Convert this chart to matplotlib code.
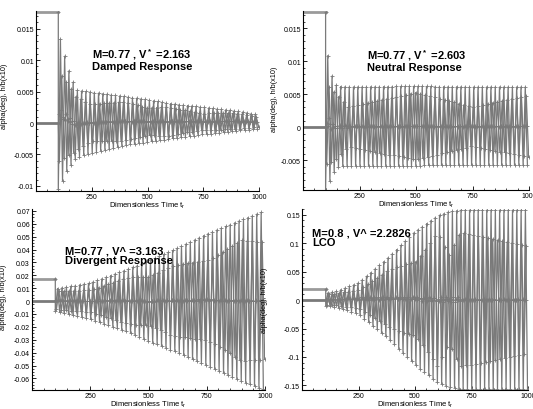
import numpy as np
import matplotlib.pyplot as plt
from matplotlib.ticker import MultipleLocator, FuncFormatter

plt.rcParams['font.family'] = ['Liberation Sans', 'DejaVu Sans']

GRIS = '#7a7a7a'
GRIS_CLAIR = '#9a9a9a'

# enveloppes (temps, crete haute, crete basse)
T_AMORTI = [100, 115, 140, 180, 250, 400, 500, 600, 750, 900, 1000]
HAUT_AMORTI = [0.0147, 0.0125, 0.009, 0.0052, 0.0049, 0.0042, 0.0037, 0.0031, 0.0025, 0.0019, 0.0013]
BAS_AMORTI = [-0.0105, -0.0095, -0.0075, -0.0055, -0.0047, -0.0035, -0.003, -0.0025, -0.0018, -0.0012, -0.0009]
# rapport d'amplitude de la seconde courbe (h/b) aux memes instants
RAPPORT_AMORTI = [0.6, 0.6, 0.7, 0.8, 0.6, 0.8, 0.65, 0.8, 0.6, 0.8, 0.7]

T_NEUTRE = [100, 110, 125, 150, 200, 500, 750, 1000]
HAUT_NEUTRE = [0.0174, 0.0105, 0.008, 0.0062, 0.0061, 0.0062, 0.0061, 0.0061]
BAS_NEUTRE = [-0.0095, -0.0092, -0.0075, -0.006, -0.0058, -0.0058, -0.0057, -0.0057]
RAPPORT_NEUTRE = [0.6, 0.6, 0.7, 0.8, 0.5, 0.85, 0.5, 0.8]

T_DIVERGENT = [100, 150, 250, 400, 500, 600, 750, 900, 1000]
HAUT_DIVERGENT = [0.0095, 0.011, 0.014, 0.024, 0.031, 0.039, 0.052, 0.063, 0.070]
BAS_DIVERGENT = [-0.008, -0.010, -0.014, -0.023, -0.031, -0.038, -0.050, -0.062, -0.069]
RAPPORT_DIVERGENT = [0.8, 0.7, 0.6, 0.75, 0.6, 0.7, 0.6, 0.75, 0.65]

T_LCO = [105, 150, 250, 375, 500, 600, 650, 700, 1000]
HAUT_LCO = [0.012, 0.015, 0.03, 0.072, 0.12, 0.148, 0.155, 0.158, 0.158]
BAS_LCO = [-0.010, -0.012, -0.024, -0.065, -0.113, -0.145, -0.152, -0.156, -0.156]
RAPPORT_LCO = [0.8, 0.7, 0.6, 0.7, 0.55, 0.8, 0.5, 0.75, 0.6]

# niveau initial (h/b) avant le lacher
NIVEAUX_INITIAUX = [0.0176, 0.0174, 0.0175, 0.019]
T_LACHER = [100, 100, 100, 105]

TITRES = [
    "M=0.77 , V$\\mathregular{^*}$ =2.163\nDamped Response",
    "M=0.77 , V$\\mathregular{^*}$ =2.603\nNeutral Response",
    "M=0.77 , V^ =3.163\nDivergent Response",
    "M=0.8 , V^ =2.2826\nLCO",
]

PERIODE = 19.0


def zigzag(t0, demi, t_env, haut, bas, rapport=None):
    t = np.arange(t0, 1000 + 1e-9, demi)
    h = np.interp(t, t_env, haut)
    b = np.interp(t, t_env, bas)
    if rapport is not None:
        r = np.interp(t, t_env, rapport)
        h = h * r
        b = b * r
    k = np.arange(len(t))
    y = np.where(k % 2 == 0, b, h)
    # points intermediaires pour les marqueurs
    tt = np.empty(2 * len(t) - 1)
    yy = np.empty(2 * len(t) - 1)
    tt[0::2] = t
    yy[0::2] = y
    tt[1::2] = (t[:-1] + t[1:]) / 2
    yy[1::2] = (y[:-1] + y[1:]) / 2
    return tt, yy


def tracer(ax, t_env, haut, bas, rapport, niveau, t_lacher):
    ax.plot([0, t_lacher], [niveau, niveau], color=GRIS_CLAIR, lw=2)
    ax.plot([0, t_lacher], [0, 0], color=GRIS, lw=2)
    t1, y1 = zigzag(t_lacher, PERIODE / 2, t_env, haut, bas)
    t1 = np.concatenate([[t_lacher], t1])
    y1 = np.concatenate([[niveau], y1])
    ax.plot(t1, y1, color=GRIS, lw=0.9, marker='+', ms=2.2, mew=0.6)
    t2, y2 = zigzag(t_lacher + PERIODE / 4, PERIODE * 1.12 / 2, t_env, haut, bas, rapport)
    t2 = np.concatenate([[t_lacher], t2])
    y2 = np.concatenate([[0], y2])
    ax.plot(t2, y2, color=GRIS, lw=0.9, marker='+', ms=2.2, mew=0.6)


def format_y(v, pos):
    v = round(v, 4)
    if v == 0:
        return "0"
    return f"{v:g}"


W, H = 533, 410
fig = plt.figure(figsize=(W / 100, H / 100), dpi=100)

# cadres en pixels: gauche, bas, largeur, hauteur
cadres = [(36, 192, 223, 180), (303, 191, 226, 179), (32, 391, 233, 181), (302, 391, 226, 181)]
limites_y = [(-0.0108, 0.0178), (-0.0095, 0.0176), (-0.069, 0.0715), (-0.158, 0.16)]
pas_majeur = [0.005, 0.005, 0.01, 0.05]
pas_mineur = [0.001, 0.001, 0.0025, 0.01]
pos_titres = [(0.25, 0.805), (0.283, 0.80), (0.142, 0.80), (0.044, 0.90)]
pos_ylabel = [(-0.125, 0.53), (-0.11, 0.51), (-0.108, 0.52), (-0.15, 0.50)]

donnees = [
    (T_AMORTI, HAUT_AMORTI, BAS_AMORTI, RAPPORT_AMORTI),
    (T_NEUTRE, HAUT_NEUTRE, BAS_NEUTRE, RAPPORT_NEUTRE),
    (T_DIVERGENT, HAUT_DIVERGENT, BAS_DIVERGENT, RAPPORT_DIVERGENT),
    (T_LCO, HAUT_LCO, BAS_LCO, RAPPORT_LCO),
]

for i in range(4):
    g, b, l, h = cadres[i]
    ax = fig.add_axes([g / W, (H - b) / H, l / W, h / H])
    t_env, haut, bas, rapport = donnees[i]
    tracer(ax, t_env, haut, bas, rapport, NIVEAUX_INITIAUX[i], T_LACHER[i])
    ax.set_xlim(0, 1000)
    ax.set_ylim(*limites_y[i])
    ax.set_xticks([250, 500, 750, 1000])
    ax.xaxis.set_minor_locator(MultipleLocator(50))
    ax.yaxis.set_major_locator(MultipleLocator(pas_majeur[i]))
    ax.yaxis.set_minor_locator(MultipleLocator(pas_mineur[i]))
    ax.yaxis.set_major_formatter(FuncFormatter(format_y))
    ax.spines['top'].set_visible(False)
    ax.spines['right'].set_visible(False)
    ax.spines['left'].set_linewidth(0.8)
    ax.spines['bottom'].set_linewidth(0.8)
    ax.tick_params(which='major', direction='in', length=3, width=0.6, labelsize=5, pad=1.5)
    ax.tick_params(which='minor', direction='in', length=1.5, width=0.5)
    ax.set_xlabel("Dimensionless Time $\\mathregular{t_r}$", fontsize=5.5, labelpad=0)
    ax.set_ylabel("alpha(deg), h/b(x10)", fontsize=5.2)
    ax.yaxis.set_label_coords(*pos_ylabel[i])
    ax.text(pos_titres[i][0], pos_titres[i][1], TITRES[i], transform=ax.transAxes,
            fontsize=8, fontweight='bold', va='top', ha='left', linespacing=1.0)

fig.savefig("out.png", dpi=100)
